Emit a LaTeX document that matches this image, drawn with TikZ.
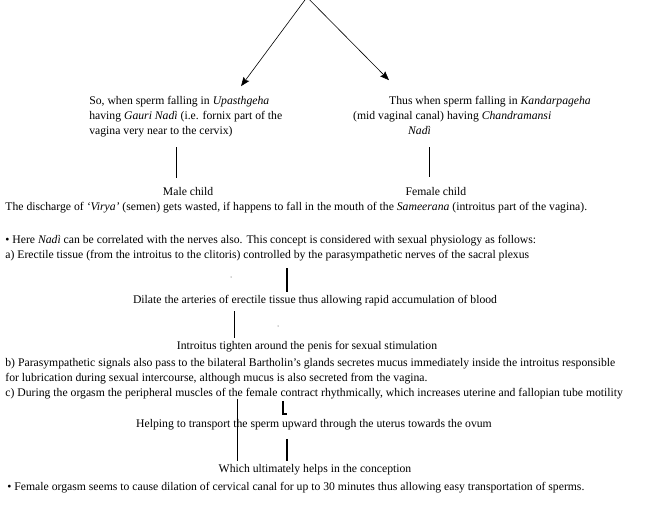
\documentclass[tikz,border=0pt]{standalone}
\usepackage{fontspec}
\setmainfont{Liberation Serif}
\usetikzlibrary{arrows.meta,positioning}

\begin{document}
\begin{tikzpicture}[x=1pt,y=-1pt,
  txt/.style={anchor=mid west,inner sep=0pt,font=\fontsize{11.7}{15}\selectfont},
  blk/.style={anchor=north west,inner sep=0pt,align=left,font=\fontsize{11.7}{15}\selectfont},
  ctr/.style={anchor=mid,inner sep=0pt,font=\fontsize{11.7}{15}\selectfont},
  conn/.style={draw=black,line width=1.1pt},
  arr/.style={draw=black,line width=0.6pt,-{Stealth[length=9pt,width=7pt,inset=1.5pt]}},
  speck/.style={fill=gray!70,circle,inner sep=0pt,minimum size=1.5pt}]
\filldraw[color=white] (0,0) rectangle (647,509);
\useasboundingbox (0,0) rectangle (647,509);
% Drawing branches
\coordinate (apex) at (307,-3);
\coordinate (tipL) at (241,86);
\coordinate (tipR) at (389,80);
\draw[arr] (apex) -- (tipL);
\draw[arr] (apex) -- (tipR);
\node[blk] (upas) at (89,96) {So, when sperm falling in \textit{Upasthgeha}\\
  having \textit{Gauri Nadì} (i.e. fornix part of the\\
  vagina very near to the cervix)};
\node[blk] (kandar) at (353,96) {\hspace*{36pt}Thus when sperm falling in \textit{Kandarpageha}\\
  (mid vaginal canal) having \textit{Chandramansi}\\
  \hspace*{55pt}\textit{Nadì}};
\coordinate (dropL) at (176,147);
\coordinate (dropR) at (430,147);
\draw[conn] (dropL) -- ++(0,31);
\draw[conn] (dropR) -- ++(0,30);
\node[ctr] (male) at (188,193) {Male child};
\node[ctr] (female) at (436,193) {Female child};
\node[txt] (virya) at (5,208) {The discharge of \textit{‘Virya’} (semen) gets wasted, if happens to fall in the mouth of the \textit{Sameerana} (introitus part of the vagina).};
% Done with branches; drawing physiology
\node[txt] (nerves) at (5,241) {• Here \textit{Nadì} can be correlated with the nerves also. This concept is considered with sexual physiology as follows:};
\node[txt] (erectile) at (5,256) {a) Erectile tissue (from the introitus to the clitoris) controlled by the parasympathetic nerves of the sacral plexus};
\node[speck] (speckA) at (231,277) {};
\coordinate (dropA) at (287,268);
\draw[conn] (dropA) -- ++(0,24);
\node[ctr] (dilate) at (315,301) {Dilate the arteries of erectile tissue thus allowing rapid accumulation of blood};
\coordinate (dropB) at (234,311);
\draw[conn] (dropB) -- ++(0,27);
\node[speck] (speckB) at (278,326) {};
\node[ctr] (tighten) at (307,347) {Introitus tighten around the penis for sexual stimulation};
\node[txt] (bartholin) at (5,364) {b) Parasympathetic signals also pass to the bilateral Bartholin’s glands secretes mucus immediately inside the introitus responsible};
\node[txt] (lubric) at (5,379) {for lubrication during sexual intercourse, although mucus is also secreted from the vagina.};
\node[txt] (orgasm) at (5,394) {c) During the orgasm the peripheral muscles of the female contract rhythmically, which increases uterine and fallopian tube motility};
\coordinate (hook) at (283,401);
\draw[conn] (hook) -- ++(0,13) -- ++(4,0);
\node[ctr] (helping) at (314,425) {Helping to transport the sperm upward through the uterus towards the ovum};
\coordinate (dropC) at (237,399);
\coordinate (dropD) at (287,439);
\draw[conn] (dropC) -- ++(0,62);
\draw[conn] (dropD) -- ++(0,22);
\node[ctr] (conception) at (315,470) {Which ultimately helps in the conception};
\node[txt] (cervical) at (7,488) {• Female orgasm seems to cause dilation of cervical canal for up to 30 minutes thus allowing easy transportation of sperms.};
% Done with physiology
\end{tikzpicture}
\end{document}
